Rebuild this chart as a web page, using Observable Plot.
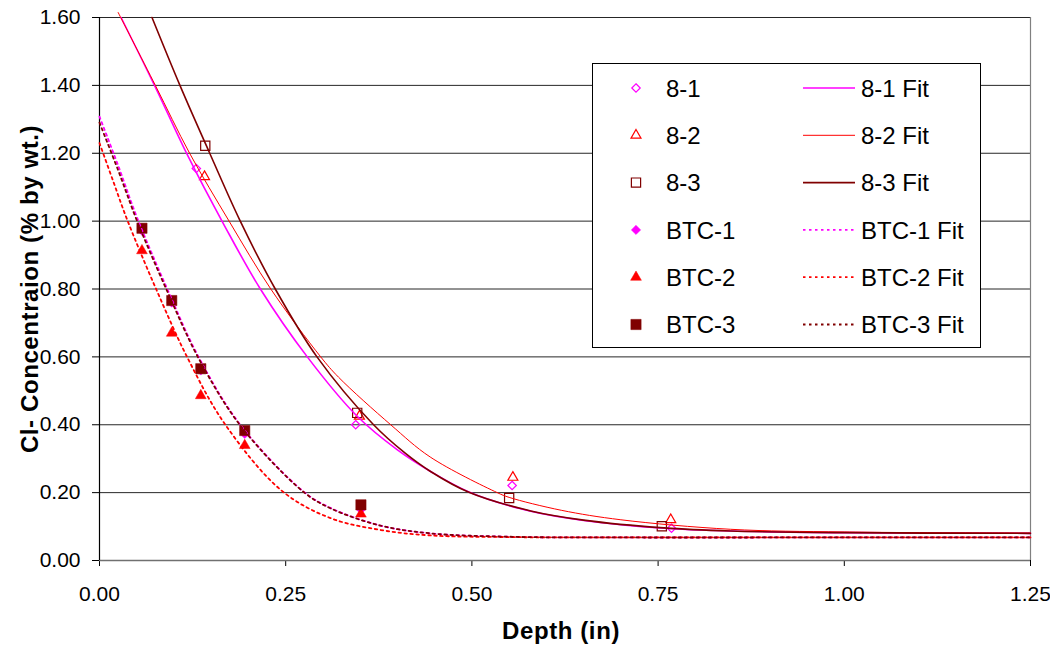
<!DOCTYPE html>
<html><head><meta charset="utf-8">
<script src="https://cdn.jsdelivr.net/npm/d3@7"></script>
<script src="https://cdn.jsdelivr.net/npm/@observablehq/plot@0.6"></script>
<style>
html,body{margin:0;padding:0;background:#fff;}
</style></head><body><div id="chart"></div>
<script>
const FONT = "Arial, 'Liberation Sans', Helvetica, sans-serif";

// ---- tick values ----
const xTicks = [0, 0.25, 0.5, 0.75, 1.0, 1.25];
const yTicks = [0, 0.2, 0.4, 0.6, 0.8, 1.0, 1.2, 1.4, 1.6];
const xTitle = "Depth (in)";
const yTitle = "Cl- Concentraion (% by wt.)";

// ---- measured points ----
const depth81 = [0.130, 0.344, 0.554, 0.768];
const conc81  = [1.155, 0.400, 0.221, 0.095];
const depth82 = [0.141, 0.349, 0.555, 0.767];
const conc82  = [1.131, 0.425, 0.245, 0.120];
const depth83 = [0.142, 0.346, 0.550, 0.755];
const conc83  = [1.222, 0.435, 0.184, 0.101];
const depthBTC = [0.057, 0.097, 0.136, 0.195, 0.351];
const concBTC1 = [0.972, 0.760, 0.560, 0.373, 0.150];
const concBTC2 = [0.913, 0.670, 0.486, 0.339, 0.137];
const concBTC3 = [0.979, 0.766, 0.565, 0.383, 0.164];

// ---- fitted curves ----
const fit81X = [0.029, 0.075, 0.118, 0.167, 0.216, 0.279, 0.346, 0.400, 0.444, 0.496, 0.579, 0.650, 0.758, 0.847, 1.000, 1.250];
const fit81Y = [1.600, 1.395, 1.195, 0.990, 0.800, 0.600, 0.425, 0.326, 0.263, 0.202, 0.145, 0.118, 0.095, 0.087, 0.082, 0.080];
const fit82X = [0.025, 0.075, 0.121, 0.174, 0.230, 0.297, 0.321, 0.391, 0.444, 0.534, 0.550, 0.620, 0.700, 0.847, 1.000, 1.250];
const fit82Y = [1.615, 1.400, 1.200, 1.000, 0.800, 0.600, 0.540, 0.400, 0.305, 0.200, 0.186, 0.148, 0.120, 0.092, 0.084, 0.081];
const fit83X = [0.0705, 0.108, 0.148, 0.189, 0.236, 0.292, 0.368, 0.410, 0.444, 0.496, 0.579, 0.650, 0.758, 0.847, 1.000, 1.250];
const fit83Y = [1.600, 1.400, 1.200, 1.000, 0.800, 0.600, 0.400, 0.317, 0.263, 0.201, 0.146, 0.119, 0.096, 0.087, 0.082, 0.080];
const fitB1X = [0.000, 0.025, 0.0505, 0.090, 0.133, 0.189, 0.274, 0.310, 0.377, 0.444, 0.550, 0.700, 1.000, 1.250];
const fitB1Y = [1.308, 1.164, 1.010, 0.805, 0.600, 0.400, 0.203, 0.155, 0.103, 0.080, 0.070, 0.068, 0.068, 0.068];
const fitB2X = [0.000, 0.018, 0.037, 0.075, 0.118, 0.169, 0.245, 0.310, 0.377, 0.444, 0.550, 0.700, 1.000, 1.250];
const fitB2Y = [1.230, 1.120, 1.005, 0.805, 0.598, 0.400, 0.205, 0.125, 0.090, 0.074, 0.069, 0.068, 0.068, 0.068];
const fitB3X = [0.000, 0.025, 0.0505, 0.090, 0.133, 0.189, 0.274, 0.310, 0.377, 0.444, 0.550, 0.700, 1.000, 1.250];
const fitB3Y = [1.290, 1.150, 1.000, 0.798, 0.596, 0.398, 0.202, 0.154, 0.103, 0.080, 0.070, 0.068, 0.068, 0.068];

// ---- styles ----
const MAG = "#FF00FF", RED = "#FF0000", DRK = "#800000";
const pointSeries = [
  {name:"8-1",   xs:depth81,  ys:conc81,   color:MAG, symbol:"diamond2", filled:false, r:3.8},
  {name:"8-2",   xs:depth82,  ys:conc82,   color:RED, symbol:"triangle", filled:false, r:3.7},
  {name:"8-3",   xs:depth83,  ys:conc83,   color:DRK, symbol:"square",   filled:false, r:5.2},
  {name:"BTC-1", xs:depthBTC, ys:concBTC1, color:MAG, symbol:"diamond2", filled:true,  r:4.2},
  {name:"BTC-2", xs:depthBTC, ys:concBTC2, color:RED, symbol:"triangle", filled:true,  r:4.0},
  {name:"BTC-3", xs:depthBTC, ys:concBTC3, color:DRK, symbol:"square",   filled:true,  r:5.8}
];
const fitSeries = [
  {name:"8-1 Fit",   xs:fit81X, ys:fit81Y, color:MAG, width:1.6, dash:null},
  {name:"8-2 Fit",   xs:fit82X, ys:fit82Y, color:RED, width:1.0, dash:null},
  {name:"8-3 Fit",   xs:fit83X, ys:fit83Y, color:DRK, width:1.6, dash:null},
  {name:"BTC-1 Fit", xs:fitB1X, ys:fitB1Y, color:MAG, width:1.8, dash:"2.5,3.5"},
  {name:"BTC-2 Fit", xs:fitB2X, ys:fitB2Y, color:RED, width:1.8, dash:"2.5,3.5"},
  {name:"BTC-3 Fit", xs:fitB3X, ys:fitB3Y, color:DRK, width:1.8, dash:"2.5,3.5"}
];
const toRows = (s) => s.xs.map((x, i) => ({series: s.name, depth: x, conc: s.ys[i]}));

const marks = [
  Plot.gridY(yTicks, {stroke:"#000", strokeOpacity:0.85, strokeWidth:1}),
  Plot.ruleX([1.25], {stroke:"#808080", strokeWidth:1.2}),
  Plot.axisY(yTicks, {tickFormat: d => d.toFixed(2), tickSize:7, tickPadding:12, fontSize:21, label:null}),
  Plot.axisX(xTicks, {tickFormat: d => d.toFixed(2), tickSize:6, tickPadding:20, fontSize:21, label:null}),
  Plot.ruleY([0], {stroke:"#707070", strokeWidth:1.5}),
  Plot.ruleX([0], {stroke:"#000", strokeWidth:1.2}),
];
for (const s of pointSeries) {
  marks.push(Plot.dot(toRows(s), {
    x:"depth", y:"conc", symbol: () => s.symbol, r:s.r,
    fill: s.filled ? s.color : "none", stroke: s.color, strokeWidth: s.filled ? 0.5 : 1.2
  }));
}
for (const s of fitSeries) {
  marks.push(Plot.line(toRows(s), {
    x:"depth", y:"conc", stroke:s.color, strokeWidth:s.width,
    strokeDasharray: s.dash ?? undefined, curve:"catmull-rom"
  }));
}
marks.push(Plot.text([yTitle], {frameAnchor:"left", textAnchor:"middle", dx:-69, rotate:-90, fontSize:24, fontWeight:"bold", text:d=>d}));
marks.push(Plot.text([xTitle], {frameAnchor:"bottom", textAnchor:"middle", dx:-4, dy:78, fontSize:24, fontWeight:"bold", text:d=>d}));

const chart = Plot.plot({
  width:1050, height:646,
  marginLeft:99, marginRight:20, marginTop:17, marginBottom:86,
  style:{fontFamily:FONT, fontSize:"21px", background:"#fff", color:"#000", overflow:"visible"},
  x:{domain:[0,1.25]},
  y:{domain:[0,1.6]},
  symbol:{type:"identity"},
  marks
});
document.getElementById("chart").appendChild(chart);
const root = d3.select(chart);
// tick label size
root.selectAll('g[aria-label$="tick label"]').attr("font-size", 21);
root.selectAll('g[aria-label$="tick label"] text').attr("font-size", 21);
// slight letter spacing on the axis titles to match the wider original lettering
root.selectAll("text").filter(function(){ const t = this.textContent; return t === xTitle || t === yTitle; })
  .attr("letter-spacing", "0.6px");

// ---- legend (inside the plot area, top right) ----
const lg = root.append("g").attr("font-family", FONT).attr("font-size", 24).attr("text-anchor", "start");
lg.append("rect").attr("x", 592.5).attr("y", 63.5).attr("width", 388).attr("height", 284)
  .attr("fill", "#fff").attr("stroke", "#000").attr("stroke-width", 1);
const rowY = (i) => 88 + i * 47.3;
const symMap = {diamond2: d3.symbolDiamond2, triangle: d3.symbolTriangle, square: d3.symbolSquare};
pointSeries.forEach((s, i) => {
  const y = rowY(i);
  lg.append("path")
    .attr("d", d3.symbol(symMap[s.symbol], Math.PI * s.r * s.r)())
    .attr("transform", `translate(636,${y})`)
    .attr("fill", s.filled ? s.color : "none").attr("stroke", s.color)
    .attr("stroke-width", s.filled ? 0.5 : 1.2);
  lg.append("text").attr("x", 666).attr("y", y).attr("dy", "0.36em").text(s.name);
});
fitSeries.forEach((s, i) => {
  const y = rowY(i);
  lg.append("line").attr("x1", 803).attr("x2", 855).attr("y1", y).attr("y2", y)
    .attr("stroke", s.color).attr("stroke-width", s.width)
    .attr("stroke-dasharray", s.dash ?? null);
  lg.append("text").attr("x", 861).attr("y", y).attr("dy", "0.36em").text(s.name);
});
</script>
</body></html>
